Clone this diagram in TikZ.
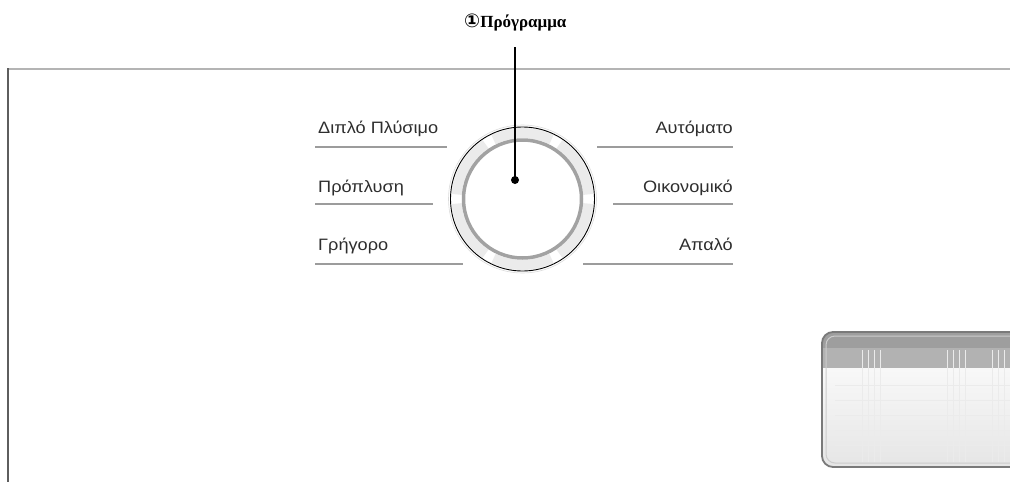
\documentclass[tikz,border=0pt]{standalone}
\usepackage{fontspec}
\newfontfamily\labfont{Liberation Sans}
\newfontfamily\ttlfont{Liberation Serif}
\newfontfamily\symfont{DejaVu Sans}
\definecolor{txt}{HTML}{2E2E2E}
\definecolor{uline}{HTML}{9C9C9C}
\definecolor{band}{HTML}{EBEBEB}
\definecolor{ring}{HTML}{A2A2A2}
\definecolor{frametop}{HTML}{B4B4B4}
\definecolor{frameleft}{HTML}{5E5E5E}
\newcommand{\wlab}[1]{\scalebox{1.1}[1]{#1}}
\tikzset{
  lab/.style={font=\labfont\fontsize{16.5}{16.5}\selectfont, text=txt, inner sep=0pt},
  labL/.style={lab, anchor=base west},
  labR/.style={lab, anchor=base east},
  ul/.style={draw=uline, line width=2pt},
}
\begin{document}
\begin{tikzpicture}[x=1pt,y=-1pt]
\useasboundingbox (0,0) rectangle (1010,482);
% panel frame
\draw[frametop, line width=2pt] (8,69) -- (1012,69);
\draw[frameleft, line width=2.8pt] (8,68) -- (8,482);
% display (bottom right)
\begin{scope}
\clip[rounded corners=11pt] (822,332) rectangle (1040,467);
\shade[top color=white, bottom color=black!10] (822,332) rectangle (1040,467);
\fill[black!38] (822,332) rectangle (1040,368);
\fill[black!30] (822,348) rectangle (1040,368);
\foreach \yy in {385,400,415,430,445}
  \draw[black!8, line width=0.8pt] (835,\yy) -- (1040,\yy);
\foreach \xx in {862,868,874,880,947,953,959,965,992,998,1004}
  \draw[black!8, line width=0.8pt] (\xx,350) -- (\xx,462);
\end{scope}
\draw[black!52, line width=1.8pt, rounded corners=11pt] (1040,332) -- (822,332) -- (822,467) -- (1040,467);
\draw[black!20, line width=1pt, rounded corners=9pt] (1040,336) -- (826,336) -- (826,463) -- (1040,463);
% dial
\coordinate (c) at (522.5,199);
\draw[black!14, line width=0.6pt] (c) circle[radius=74];
\foreach \a in {0,60,...,300}
  \draw[band, line width=10pt] ([shift={(\a+4:66)}]c) arc[start angle=\a+4, end angle=\a+56, radius=66];
\draw[black, line width=0.9pt] (c) circle[radius=72];
\draw[ring, line width=3.5pt] (c) circle[radius=59];
% left labels
\node[labL] (l1) at (318,133) {\wlab{Διπλό Πλύσιμο}};
\node[labL] (l2) at (318,192) {\wlab{Πρόπλυση}};
\node[labL] (l3) at (318,250) {\wlab{Γρήγορο}};
\draw[ul] (315,147) -- (447,147);
\draw[ul] (315,204) -- (433,204);
\draw[ul] (315,264) -- (463,264);
% right labels
\node[labR] (r1) at (733,133) {\wlab{Αυτόματο}};
\node[labR] (r2) at (733,192) {\wlab{Οικονομικό}};
\node[labR] (r3) at (733,250) {\wlab{Απαλό}};
\draw[ul] (597,147) -- (733,147);
\draw[ul] (613,204) -- (733,204);
\draw[ul] (583,264) -- (733,264);
% title and leader
\node[anchor=base west, inner sep=0pt] (title) at (464,27)
  {{\symfont\bfseries\fontsize{19}{19}\selectfont ①}{\ttlfont\bfseries\fontsize{17}{17}\selectfont Πρόγραμμα}};
\coordinate (lt) at (515,47);
\node[circle, fill=black, inner sep=0pt, minimum size=8pt] (dot) at (515,180) {};
\draw[black, line width=1.8pt] (lt) -- (dot.center);
\end{tikzpicture}
\end{document}
